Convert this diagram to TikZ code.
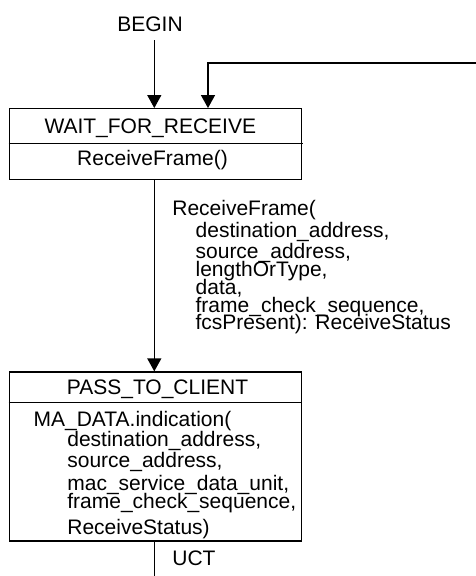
\documentclass[tikz,border=0pt]{standalone}
\usepackage{fontspec}
\setmainfont{Liberation Sans}
\usetikzlibrary{arrows.meta}
\begin{document}
\begin{tikzpicture}[x=1pt,y=-1pt,
  line width=1.3pt,
  txt/.style={inner sep=0pt, font=\fontsize{21}{21}\selectfont},
  box/.style={draw, rectangle, inner sep=0pt},
  arr/.style={-{Triangle[width=14pt,length=13pt]}}]
\useasboundingbox (0,0) rectangle (476,576);
% boxes
\node[box, minimum width=292.2pt, minimum height=70.6pt] (wait) at (155.4,144) {};
\node[box, minimum width=292.4pt, minimum height=169pt] (pass) at (155.5,456.5) {};
% dividers
\coordinate (wd) at (302.7,143.6);
\draw (wait.west |- wd) -- (wd);
\coordinate (pd) at (0,402.7);
\draw (pass.west |- pd) -- (pass.east |- pd);
% texts
\node[txt, anchor=base] (begin) at (150,31.7) {BEGIN};
\node[txt, anchor=base] (waitt) at (150.3,133) {WAIT\_FOR\_RECEIVE};
\node[txt, anchor=base] (waitb) at (152.5,165) {ReceiveFrame()};
\node[txt, anchor=base] (passt) at (157.5,394) {PASS\_TO\_CLIENT};
\node[txt, anchor=base west] (p1) at (33,426) {MA\_DATA.indication(};
\node[txt, anchor=base west] (p2) at (66.7,446.5) {destination\_address,};
\node[txt, anchor=base west] (p3) at (66.7,467.5) {source\_address,};
\node[txt, anchor=base west] (p4) at (66.7,490) {mac\_service\_data\_unit,};
\node[txt, anchor=base west] (p5) at (66.7,508) {frame\_check\_sequence,};
\node[txt, anchor=base west] (p6) at (66.7,534.5) {ReceiveStatus)};
\node[txt, anchor=base west] (l1) at (171.7,215) {ReceiveFrame(};
\node[txt, anchor=base west] (l2) at (195,237.5) {destination\_address,};
\node[txt, anchor=base west] (l3) at (195,258) {source\_address,};
\node[txt, anchor=base west] (l4) at (195,276) {lengthOrType,};
\node[txt, anchor=base west] (l5) at (195,294) {data,};
\node[txt, anchor=base west] (l6) at (195,312.5) {frame\_check\_sequence,};
\node[txt, anchor=base west] (l7) at (195,329.5) {fcsPresent): ReceiveStatus};
\node[txt, anchor=base west] (uct) at (171.7,565) {UCT};
% connectors
\coordinate (ax) at (154.3,0);
\coordinate (bstart) at (154.3,40);
\draw[arr] (bstart) -- (ax |- wait.north);
\coordinate (loopstart) at (476,63);
\coordinate (lx) at (208,0);
\draw[arr] (loopstart) -| (lx |- wait.north);
\draw[arr] (ax |- wait.south) -- (ax |- pass.north);
\coordinate (uctend) at (154.3,576);
\draw (ax |- pass.south) -- (uctend);
\end{tikzpicture}
\end{document}
